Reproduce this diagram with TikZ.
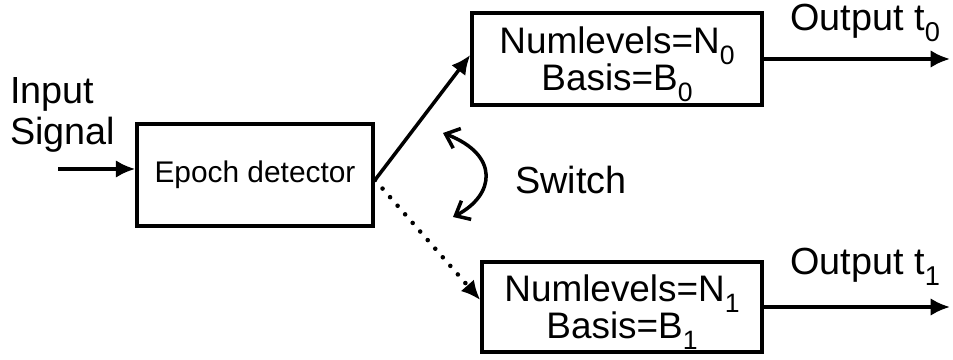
\documentclass[tikz,border=0pt]{standalone}
\usepackage{fontspec}
\setmainfont{Liberation Sans}
\usetikzlibrary{arrows.meta}

% dropped, smaller index digit
\newcommand{\lowidx}[1]{\raisebox{-0.3em}[0pt][0pt]{\scalebox{0.72}{#1}}}

\tikzset{
  blk/.style={draw, line width=2pt, align=center, inner sep=0pt},
  sig/.style={line width=2pt, -{Latex[length=11pt,width=10pt]}},
  lbl/.style={font=\fontsize{21.5}{23}\selectfont, align=left, inner sep=0pt},
}

\begin{document}
\begin{tikzpicture}
  \useasboundingbox (0,0) rectangle (19.06,-7.2);
  % blocks
  \node[blk, minimum width=4.72cm, minimum height=2.04cm, font=\fontsize{17}{20}\selectfont] (epoch) at (5.1,-3.5) {Epoch detector};
  \node[blk, minimum width=5.8cm, minimum height=1.84cm, font=\fontsize{21}{21}\selectfont] (lvl0) at (12.34,-1.18) {Numlevels=N\lowidx{0}\\Basis=B\lowidx{0}};
  \node[blk, minimum width=5.6cm, minimum height=1.8cm, font=\fontsize{21}{21}\selectfont] (lvl1) at (12.44,-6.14) {Numlevels=N\lowidx{1}\\Basis=B\lowidx{1}};
  % labels
  \node[lbl, anchor=west] (insig) at (0.2,-2.3) {Input\\Signal};
  \node[lbl, anchor=west] (switch) at (10.3,-3.6) {Switch};
  \node[lbl, anchor=west] (out0) at (15.8,-0.42) {Output t\lowidx{0}};
  \node[lbl, anchor=west] (out1) at (15.8,-5.3) {Output t\lowidx{1}};
  % end points
  \coordinate (src) at (1.16,-3.38);
  \coordinate (fork) at (7.5,-3.6);
  \coordinate (end0) at (19.0,-1.18);
  \coordinate (end1) at (19.0,-6.14);
  \coordinate (swa) at (8.86,-2.66);
  \coordinate (swb) at (9.06,-4.34);
  % connectors
  \draw[sig] (src) -- (src -| epoch.west);
  \draw[sig] (fork) -- (lvl0.west |- 0,-1.1);
  \draw[sig, line width=2.6pt, dash pattern=on 0pt off 6.5pt, line cap=round] (fork) -- (lvl1.west |- 0,-6.0);
  \draw[sig] (lvl0.east) -- (end0);
  \draw[sig] (lvl1.east) -- (end1);
  \draw[line width=2pt, {Straight Barb[length=7pt,width=12pt]}-{Straight Barb[length=7pt,width=12pt]}]
    (swa) .. controls (10.0,-3.1) and (9.9,-3.9) .. (swb);
\end{tikzpicture}
\end{document}
